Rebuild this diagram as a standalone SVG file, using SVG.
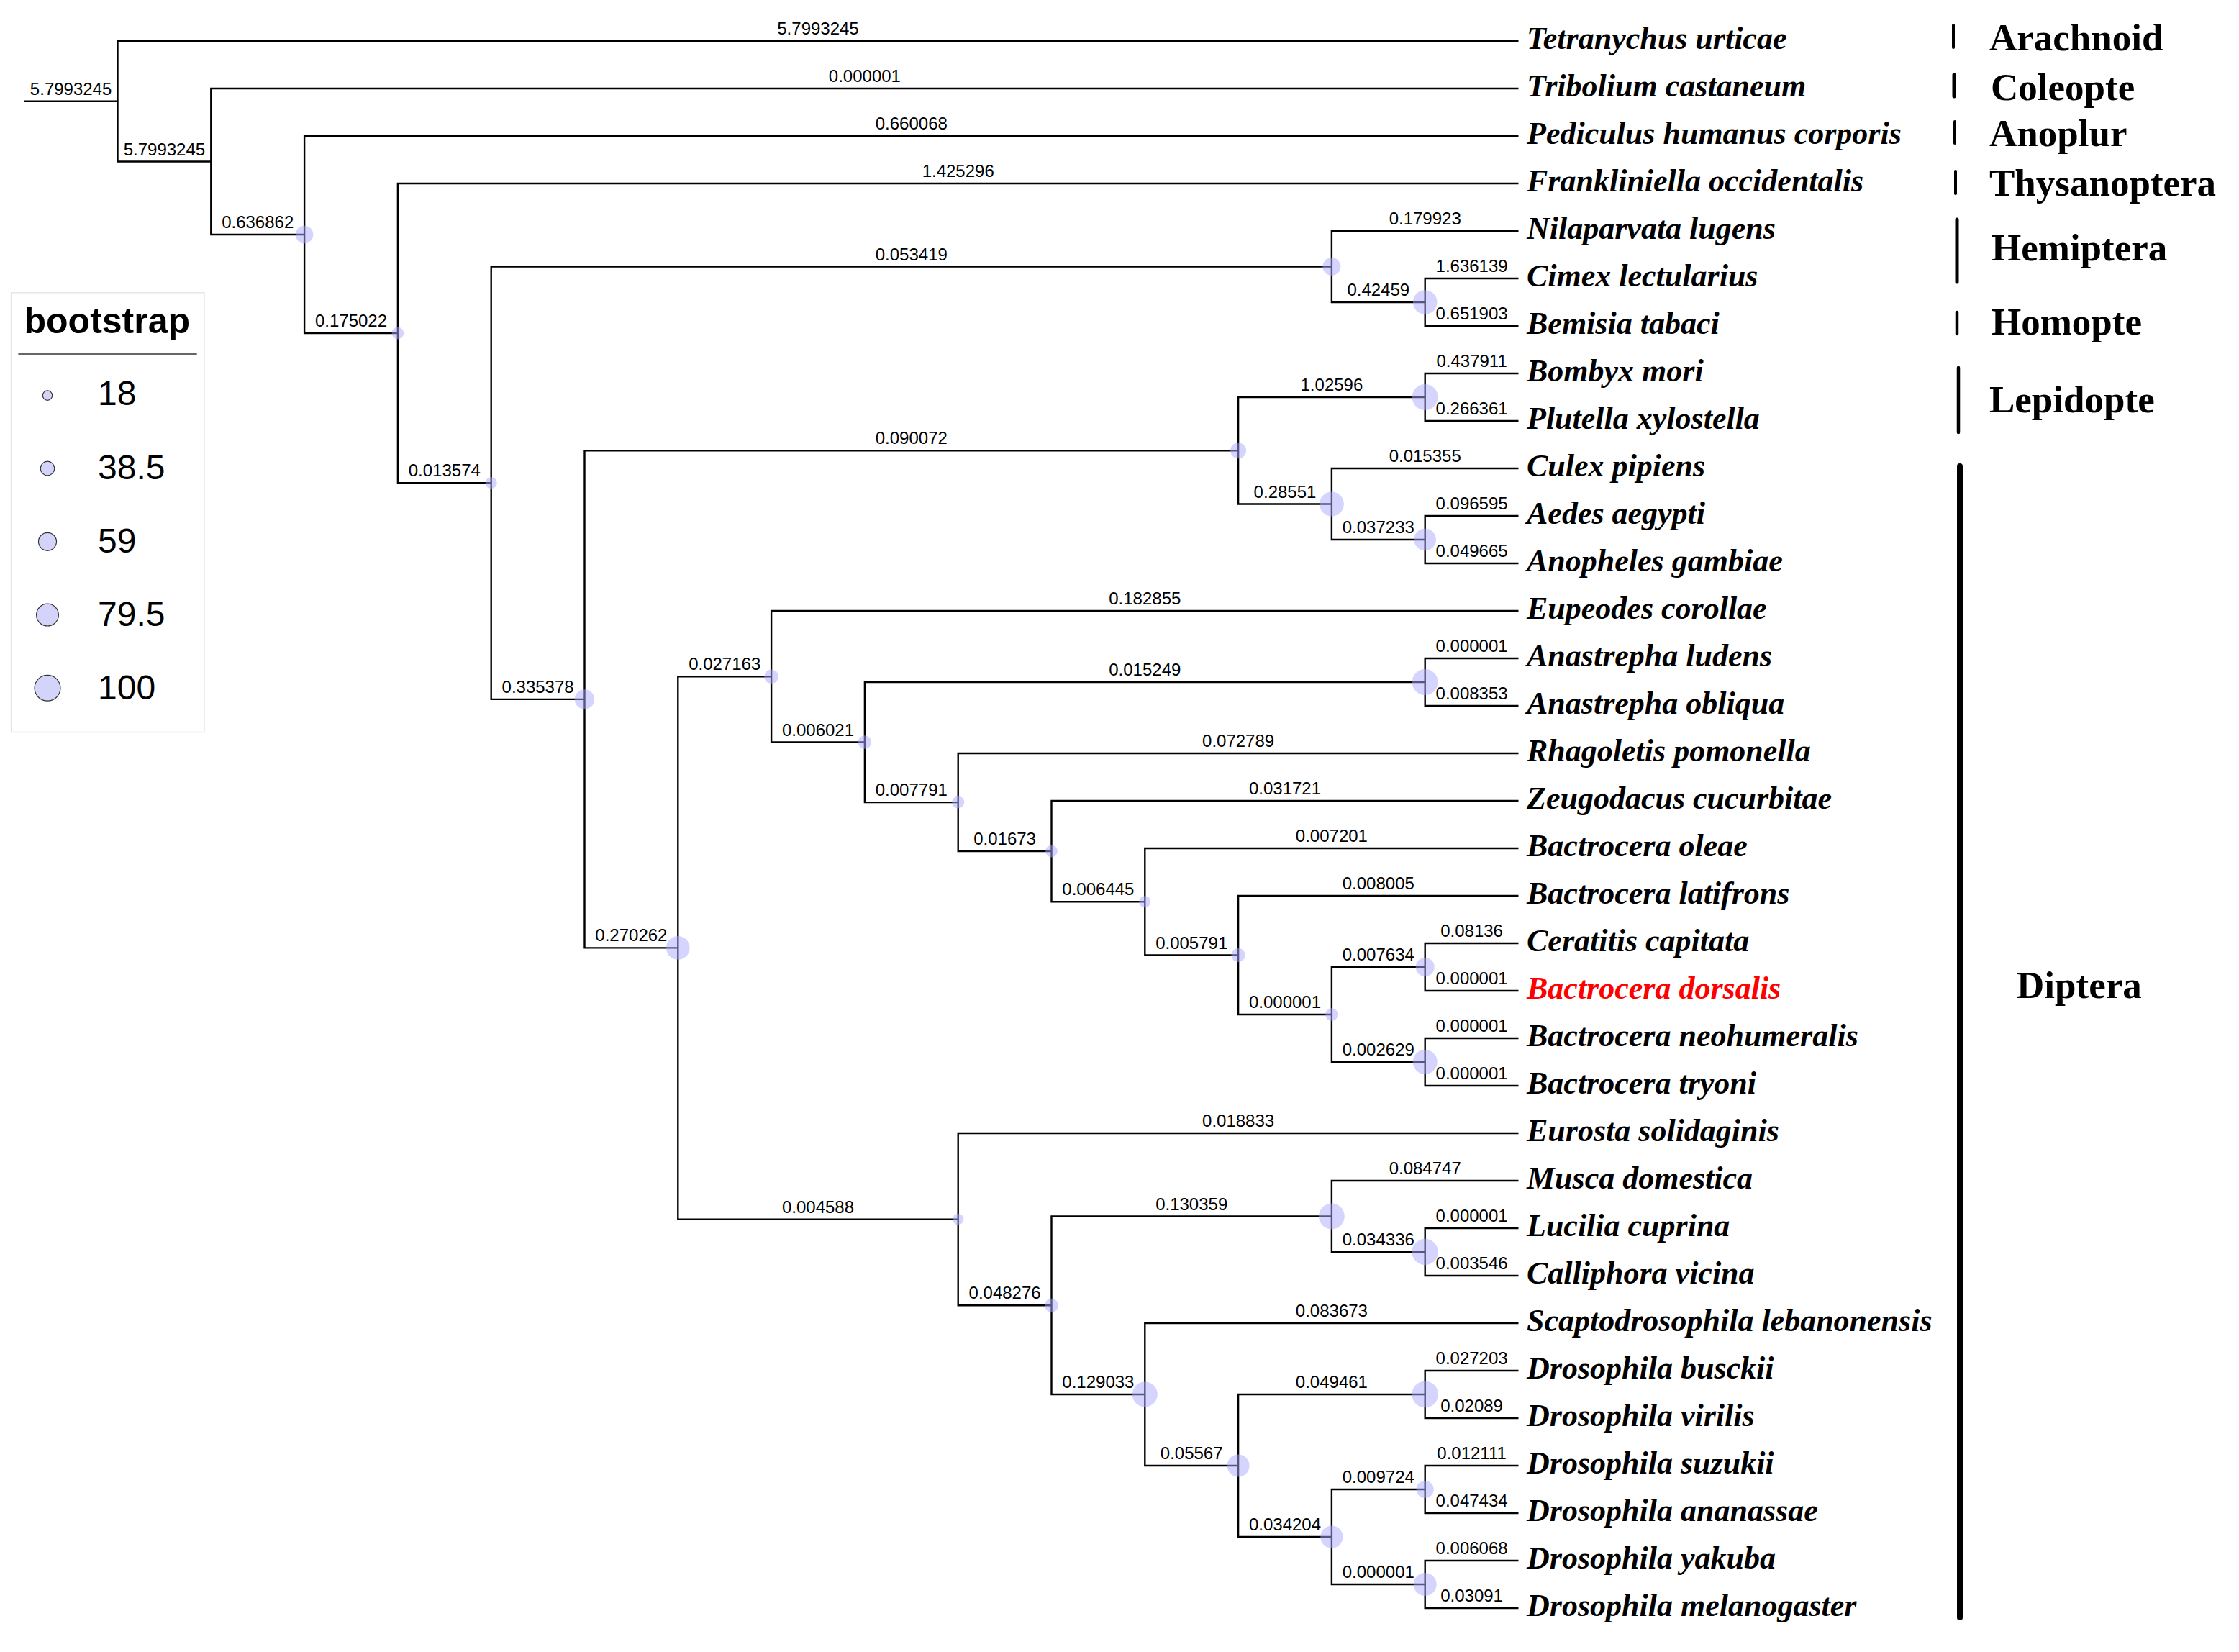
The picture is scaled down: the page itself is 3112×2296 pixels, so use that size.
<svg xmlns="http://www.w3.org/2000/svg" width="3112" height="2296" viewBox="0 0 3112 2296">
<style>
.br{fill:none;stroke:#000;stroke-width:2.4}
.bl{font-family:"Liberation Sans",Arial,sans-serif;font-size:24px;fill:#000;text-anchor:middle}
.lf{font-family:"Liberation Serif","Times New Roman",serif;font-size:44px;font-weight:bold;font-style:italic;fill:#000}
.cl{font-family:"Liberation Serif","Times New Roman",serif;font-size:53px;font-weight:bold;fill:#000}
.bs{fill:#aaaaff;fill-opacity:0.5;stroke:none}
.bar{stroke:#000;stroke-linecap:round}
.lg{font-family:"Liberation Sans",Arial,sans-serif;fill:#000}
.lc{fill:#d4d4fa;stroke:#333;stroke-width:1.2}
</style>
<rect width="3112" height="2296" fill="#fff"/>
<g id="connectors">
<path class="br" d="M 33.7 140.8 H 163.5"/>
<path class="br" d="M 2110.5 57 H 163.5 V 224.5 H 293.3"/>
<path class="br" d="M 2110.5 123 H 293.3 V 326 H 423.1"/>
<path class="br" d="M 2110.5 189 H 423.1 V 463.1 H 552.9"/>
<path class="br" d="M 2110.5 255 H 552.9 V 671.2 H 682.7"/>
<path class="br" d="M 1850.9 370.5 H 682.7 V 971.9 H 812.5"/>
<path class="br" d="M 2110.5 321 H 1850.9 V 420 H 1980.7"/>
<path class="br" d="M 2110.5 387 H 1980.7 V 453 H 2110.5"/>
<path class="br" d="M 1721.1 626.25 H 812.5 V 1317.4 H 942.3"/>
<path class="br" d="M 1980.7 552 H 1721.1 V 700.5 H 1850.9"/>
<path class="br" d="M 2110.5 519 H 1980.7 V 585 H 2110.5"/>
<path class="br" d="M 2110.5 651 H 1850.9 V 750 H 1980.7"/>
<path class="br" d="M 2110.5 717 H 1980.7 V 783 H 2110.5"/>
<path class="br" d="M 1072.1 940.3 H 942.3 V 1694.6 H 1331.7"/>
<path class="br" d="M 2110.5 849 H 1072.1 V 1031.5 H 1201.9"/>
<path class="br" d="M 1980.7 948 H 1201.9 V 1115.1 H 1331.7"/>
<path class="br" d="M 2110.5 915 H 1980.7 V 981 H 2110.5"/>
<path class="br" d="M 2110.5 1047 H 1331.7 V 1183.1 H 1461.5"/>
<path class="br" d="M 2110.5 1113 H 1461.5 V 1253.25 H 1591.3"/>
<path class="br" d="M 2110.5 1179 H 1591.3 V 1327.5 H 1721.1"/>
<path class="br" d="M 2110.5 1245 H 1721.1 V 1410 H 1850.9"/>
<path class="br" d="M 1980.7 1344 H 1850.9 V 1476 H 1980.7"/>
<path class="br" d="M 2110.5 1311 H 1980.7 V 1377 H 2110.5"/>
<path class="br" d="M 2110.5 1443 H 1980.7 V 1509 H 2110.5"/>
<path class="br" d="M 2110.5 1575 H 1331.7 V 1814.25 H 1461.5"/>
<path class="br" d="M 1850.9 1690.5 H 1461.5 V 1938 H 1591.3"/>
<path class="br" d="M 2110.5 1641 H 1850.9 V 1740 H 1980.7"/>
<path class="br" d="M 2110.5 1707 H 1980.7 V 1773 H 2110.5"/>
<path class="br" d="M 2110.5 1839 H 1591.3 V 2037 H 1721.1"/>
<path class="br" d="M 1980.7 1938 H 1721.1 V 2136 H 1850.9"/>
<path class="br" d="M 2110.5 1905 H 1980.7 V 1971 H 2110.5"/>
<path class="br" d="M 1980.7 2070 H 1850.9 V 2202 H 1980.7"/>
<path class="br" d="M 2110.5 2037 H 1980.7 V 2103 H 2110.5"/>
<path class="br" d="M 2110.5 2169 H 1980.7 V 2235 H 2110.5"/>
</g>
<g id="branch-labels">
<text class="bl" x="98.6" y="131.8">5.7993245</text>
<text class="bl" x="1137" y="48">5.7993245</text>
<text class="bl" x="228.4" y="215.5">5.7993245</text>
<text class="bl" x="1201.9" y="114">0.000001</text>
<text class="bl" x="358.2" y="317">0.636862</text>
<text class="bl" x="1266.8" y="180">0.660068</text>
<text class="bl" x="488" y="454.1">0.175022</text>
<text class="bl" x="1331.7" y="246">1.425296</text>
<text class="bl" x="617.8" y="662.2">0.013574</text>
<text class="bl" x="1266.8" y="361.5">0.053419</text>
<text class="bl" x="747.6" y="962.9">0.335378</text>
<text class="bl" x="1980.7" y="312">0.179923</text>
<text class="bl" x="1915.8" y="411">0.42459</text>
<text class="bl" x="2045.6" y="378">1.636139</text>
<text class="bl" x="2045.6" y="444">0.651903</text>
<text class="bl" x="1266.8" y="617.25">0.090072</text>
<text class="bl" x="877.4" y="1308.4">0.270262</text>
<text class="bl" x="1850.9" y="543">1.02596</text>
<text class="bl" x="1786" y="691.5">0.28551</text>
<text class="bl" x="2045.6" y="510">0.437911</text>
<text class="bl" x="2045.6" y="576">0.266361</text>
<text class="bl" x="1980.7" y="642">0.015355</text>
<text class="bl" x="1915.8" y="741">0.037233</text>
<text class="bl" x="2045.6" y="708">0.096595</text>
<text class="bl" x="2045.6" y="774">0.049665</text>
<text class="bl" x="1007.2" y="931.3">0.027163</text>
<text class="bl" x="1137" y="1685.6">0.004588</text>
<text class="bl" x="1591.3" y="840">0.182855</text>
<text class="bl" x="1137" y="1022.5">0.006021</text>
<text class="bl" x="1591.3" y="939">0.015249</text>
<text class="bl" x="1266.8" y="1106.1">0.007791</text>
<text class="bl" x="2045.6" y="906">0.000001</text>
<text class="bl" x="2045.6" y="972">0.008353</text>
<text class="bl" x="1721.1" y="1038">0.072789</text>
<text class="bl" x="1396.6" y="1174.1">0.01673</text>
<text class="bl" x="1786" y="1104">0.031721</text>
<text class="bl" x="1526.4" y="1244.25">0.006445</text>
<text class="bl" x="1850.9" y="1170">0.007201</text>
<text class="bl" x="1656.2" y="1318.5">0.005791</text>
<text class="bl" x="1915.8" y="1236">0.008005</text>
<text class="bl" x="1786" y="1401">0.000001</text>
<text class="bl" x="1915.8" y="1335">0.007634</text>
<text class="bl" x="1915.8" y="1467">0.002629</text>
<text class="bl" x="2045.6" y="1302">0.08136</text>
<text class="bl" x="2045.6" y="1368">0.000001</text>
<text class="bl" x="2045.6" y="1434">0.000001</text>
<text class="bl" x="2045.6" y="1500">0.000001</text>
<text class="bl" x="1721.1" y="1566">0.018833</text>
<text class="bl" x="1396.6" y="1805.25">0.048276</text>
<text class="bl" x="1656.2" y="1681.5">0.130359</text>
<text class="bl" x="1526.4" y="1929">0.129033</text>
<text class="bl" x="1980.7" y="1632">0.084747</text>
<text class="bl" x="1915.8" y="1731">0.034336</text>
<text class="bl" x="2045.6" y="1698">0.000001</text>
<text class="bl" x="2045.6" y="1764">0.003546</text>
<text class="bl" x="1850.9" y="1830">0.083673</text>
<text class="bl" x="1656.2" y="2028">0.05567</text>
<text class="bl" x="1850.9" y="1929">0.049461</text>
<text class="bl" x="1786" y="2127">0.034204</text>
<text class="bl" x="2045.6" y="1896">0.027203</text>
<text class="bl" x="2045.6" y="1962">0.02089</text>
<text class="bl" x="1915.8" y="2061">0.009724</text>
<text class="bl" x="1915.8" y="2193">0.000001</text>
<text class="bl" x="2045.6" y="2028">0.012111</text>
<text class="bl" x="2045.6" y="2094">0.047434</text>
<text class="bl" x="2045.6" y="2160">0.006068</text>
<text class="bl" x="2045.6" y="2226">0.03091</text>
</g>
<g id="internal-nodes">
<g id="node-C"><circle class="bs" cx="423.1" cy="326" r="12.3"/></g>
<g id="node-D"><circle class="bs" cx="552.9" cy="463.1" r="8.3"/></g>
<g id="node-E"><circle class="bs" cx="682.7" cy="671.2" r="8"/></g>
<g id="node-F"><circle class="bs" cx="1850.9" cy="370.5" r="12.5"/></g>
<g id="node-F2"><circle class="bs" cx="1980.7" cy="420" r="16.8"/></g>
<g id="node-G"><circle class="bs" cx="812.5" cy="971.9" r="13.7"/></g>
<g id="node-H"><circle class="bs" cx="1721.1" cy="626.25" r="11"/></g>
<g id="node-H1"><circle class="bs" cx="1980.7" cy="552" r="18"/></g>
<g id="node-H2"><circle class="bs" cx="1850.9" cy="700.5" r="17"/></g>
<g id="node-H3"><circle class="bs" cx="1980.7" cy="750" r="15.3"/></g>
<g id="node-I"><circle class="bs" cx="942.3" cy="1317.4" r="16.3"/></g>
<g id="node-J"><circle class="bs" cx="1072.1" cy="940.3" r="9.8"/></g>
<g id="node-L"><circle class="bs" cx="1201.9" cy="1031.5" r="9.3"/></g>
<g id="node-M"><circle class="bs" cx="1980.7" cy="948" r="18"/></g>
<g id="node-N"><circle class="bs" cx="1331.7" cy="1115.1" r="8.5"/></g>
<g id="node-O"><circle class="bs" cx="1461.5" cy="1183.1" r="8.3"/></g>
<g id="node-P"><circle class="bs" cx="1591.3" cy="1253.25" r="8"/></g>
<g id="node-Q"><circle class="bs" cx="1721.1" cy="1327.5" r="9.7"/></g>
<g id="node-R"><circle class="bs" cx="1850.9" cy="1410" r="8.7"/></g>
<g id="node-S"><circle class="bs" cx="1980.7" cy="1344" r="13"/></g>
<g id="node-T"><circle class="bs" cx="1980.7" cy="1476" r="17"/></g>
<g id="node-K"><circle class="bs" cx="1331.7" cy="1694.6" r="7.7"/></g>
<g id="node-U"><circle class="bs" cx="1461.5" cy="1814.25" r="9.4"/></g>
<g id="node-V"><circle class="bs" cx="1850.9" cy="1690.5" r="17.9"/></g>
<g id="node-V2"><circle class="bs" cx="1980.7" cy="1740" r="18.2"/></g>
<g id="node-W"><circle class="bs" cx="1591.3" cy="1938" r="17.5"/></g>
<g id="node-X"><circle class="bs" cx="1721.1" cy="2037" r="15.5"/></g>
<g id="node-Y"><circle class="bs" cx="1980.7" cy="1938" r="18.3"/></g>
<g id="node-Z"><circle class="bs" cx="1850.9" cy="2136" r="15.6"/></g>
<g id="node-Z1"><circle class="bs" cx="1980.7" cy="2070" r="12.1"/></g>
<g id="node-Z2"><circle class="bs" cx="1980.7" cy="2202" r="16"/></g>
</g>
<g id="leaves">
<g id="leaf-1"><text class="lf" x="2122" y="68">Tetranychus urticae</text></g>
<g id="leaf-2"><text class="lf" x="2122" y="134">Tribolium castaneum</text></g>
<g id="leaf-3"><text class="lf" x="2122" y="200">Pediculus humanus corporis</text></g>
<g id="leaf-4"><text class="lf" x="2122" y="266">Frankliniella occidentalis</text></g>
<g id="leaf-5"><text class="lf" x="2122" y="332">Nilaparvata lugens</text></g>
<g id="leaf-6"><text class="lf" x="2122" y="398">Cimex lectularius</text></g>
<g id="leaf-7"><text class="lf" x="2122" y="464">Bemisia tabaci</text></g>
<g id="leaf-8"><text class="lf" x="2122" y="530">Bombyx mori</text></g>
<g id="leaf-9"><text class="lf" x="2122" y="596">Plutella xylostella</text></g>
<g id="leaf-10"><text class="lf" x="2122" y="662">Culex pipiens</text></g>
<g id="leaf-11"><text class="lf" x="2122" y="728">Aedes aegypti</text></g>
<g id="leaf-12"><text class="lf" x="2122" y="794">Anopheles gambiae</text></g>
<g id="leaf-13"><text class="lf" x="2122" y="860">Eupeodes corollae</text></g>
<g id="leaf-14"><text class="lf" x="2122" y="926">Anastrepha ludens</text></g>
<g id="leaf-15"><text class="lf" x="2122" y="992">Anastrepha obliqua</text></g>
<g id="leaf-16"><text class="lf" x="2122" y="1058">Rhagoletis pomonella</text></g>
<g id="leaf-17"><text class="lf" x="2122" y="1124">Zeugodacus cucurbitae</text></g>
<g id="leaf-18"><text class="lf" x="2122" y="1190">Bactrocera oleae</text></g>
<g id="leaf-19"><text class="lf" x="2122" y="1256">Bactrocera latifrons</text></g>
<g id="leaf-20"><text class="lf" x="2122" y="1322">Ceratitis capitata</text></g>
<g id="leaf-21"><text class="lf" x="2122" y="1388" fill="#ff0000" style="fill:#ff0000">Bactrocera dorsalis</text></g>
<g id="leaf-22"><text class="lf" x="2122" y="1454">Bactrocera neohumeralis</text></g>
<g id="leaf-23"><text class="lf" x="2122" y="1520">Bactrocera tryoni</text></g>
<g id="leaf-24"><text class="lf" x="2122" y="1586">Eurosta solidaginis</text></g>
<g id="leaf-25"><text class="lf" x="2122" y="1652">Musca domestica</text></g>
<g id="leaf-26"><text class="lf" x="2122" y="1718">Lucilia cuprina</text></g>
<g id="leaf-27"><text class="lf" x="2122" y="1784">Calliphora vicina</text></g>
<g id="leaf-28"><text class="lf" x="2122" y="1850">Scaptodrosophila lebanonensis</text></g>
<g id="leaf-29"><text class="lf" x="2122" y="1916">Drosophila busckii</text></g>
<g id="leaf-30"><text class="lf" x="2122" y="1982">Drosophila virilis</text></g>
<g id="leaf-31"><text class="lf" x="2122" y="2048">Drosophila suzukii</text></g>
<g id="leaf-32"><text class="lf" x="2122" y="2114">Drosophila ananassae</text></g>
<g id="leaf-33"><text class="lf" x="2122" y="2180">Drosophila yakuba</text></g>
<g id="leaf-34"><text class="lf" x="2122" y="2246">Drosophila melanogaster</text></g>
</g>
<g id="clades">
<g id="clade-arachnoid"><line class="bar" x1="2715" y1="35" x2="2715" y2="66" stroke-width="4"/><text class="cl" x="2765" y="70">Arachnoid</text></g>
<g id="clade-coleopte"><line class="bar" x1="2716" y1="104" x2="2716" y2="134" stroke-width="5"/><text class="cl" x="2767" y="139">Coleopte</text></g>
<g id="clade-anoplur"><line class="bar" x1="2717" y1="169" x2="2717" y2="199" stroke-width="4"/><text class="cl" x="2765" y="203">Anoplur</text></g>
<g id="clade-thysanoptera"><line class="bar" x1="2718" y1="238" x2="2718" y2="269" stroke-width="4"/><text class="cl" x="2765" y="272">Thysanoptera</text></g>
<g id="clade-hemiptera"><line class="bar" x1="2720" y1="305" x2="2720" y2="392" stroke-width="5"/><text class="cl" x="2768" y="362">Hemiptera</text></g>
<g id="clade-homopte"><line class="bar" x1="2720" y1="434" x2="2720" y2="464" stroke-width="4.5"/><text class="cl" x="2768" y="465">Homopte</text></g>
<g id="clade-lepidopte"><line class="bar" x1="2722" y1="511" x2="2722" y2="601" stroke-width="4.5"/><text class="cl" x="2765" y="573">Lepidopte</text></g>
<g id="clade-diptera"><line class="bar" x1="2724" y1="648" x2="2724" y2="2248" stroke-width="8"/><text class="cl" x="2803" y="1387">Diptera</text></g>
</g>
<g id="legend">
<rect x="15.6" y="406.8" width="268.4" height="610.7" fill="#fff" stroke="#e6e6e6" stroke-width="1.5"/>
<text class="lg" x="33.5" y="462.6" font-size="50" font-weight="bold">bootstrap</text>
<line x1="25.4" y1="492" x2="273.7" y2="492" stroke="#333" stroke-width="1.5"/>
<circle class="lc" cx="66" cy="549.6" r="6.7"/>
<circle class="lc" cx="66" cy="651" r="9.8"/>
<circle class="lc" cx="66" cy="752.8" r="12.5"/>
<circle class="lc" cx="66" cy="854.6" r="15.4"/>
<circle class="lc" cx="66" cy="956.3" r="17.9"/>
<text class="lg" x="136" y="563" font-size="48">18</text>
<text class="lg" x="136" y="665.7" font-size="48">38.5</text>
<text class="lg" x="136" y="767.5" font-size="48">59</text>
<text class="lg" x="136" y="869.7" font-size="48">79.5</text>
<text class="lg" x="136" y="971.5" font-size="48">100</text>
</g>
</svg>
